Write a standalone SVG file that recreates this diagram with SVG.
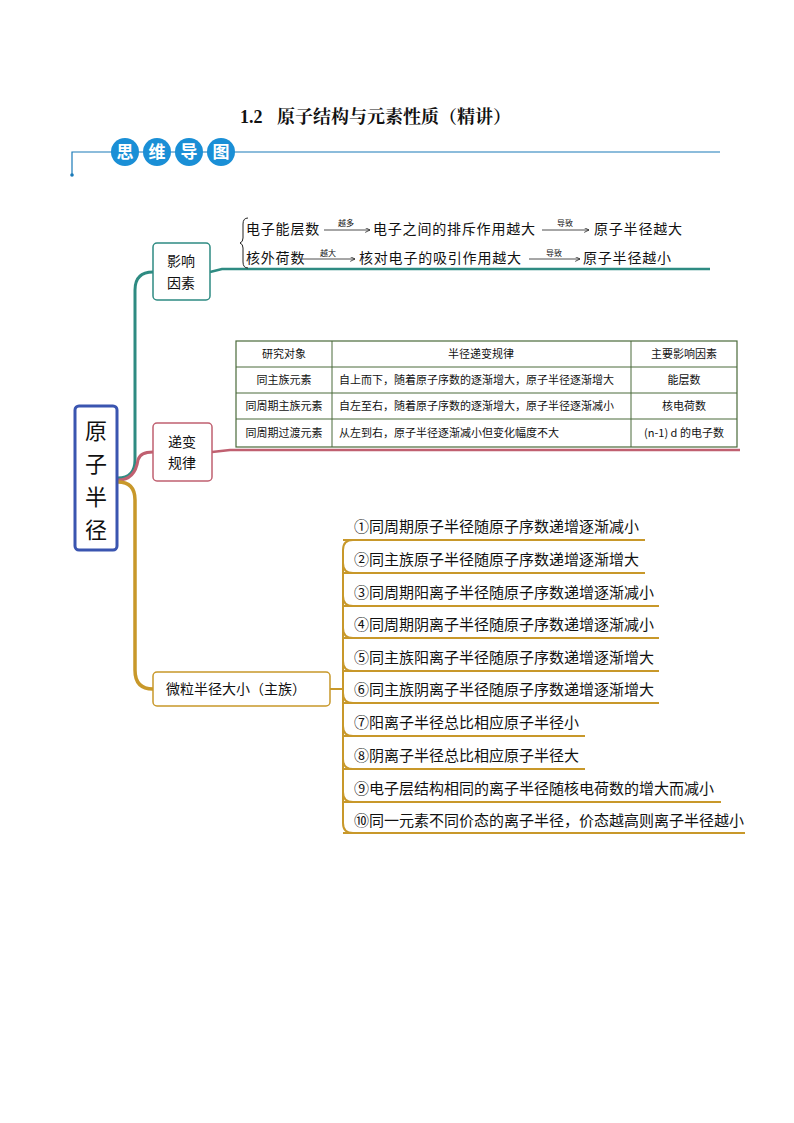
<svg xmlns="http://www.w3.org/2000/svg" width="794" height="1123" viewBox="0 0 794 1123">
<defs>
<marker id="ar" markerWidth="8" markerHeight="8" refX="6" refY="3" orient="auto"><path d="M0,0 L6,3 L0,6" fill="none" stroke="#222" stroke-width="1"/></marker>
</defs>
<style>
text{font-family:"Noto Sans CJK SC","Liberation Serif",sans-serif;fill:#111}
.t{font-size:14px}
.w{letter-spacing:0.8px}
.s{font-size:8px}
.tb{font-size:11px}
.it{font-size:15px}
.gl{stroke:#c8982a;stroke-width:2;fill:none}
</style>
<rect width="794" height="1123" fill="#fff"/>
<text x="240" y="123" style="font-family:'Liberation Serif','Noto Serif CJK SC','Noto Sans CJK SC',serif;font-weight:bold;font-size:18px">1.2</text>
<text x="277" y="123" style="font-family:'Noto Serif CJK SC','Noto Sans CJK SC',serif;font-weight:bold;font-size:18px">原子结构与元素性质（精讲）</text>
<g id="header">
<path d="M720,152 H72 V175" stroke="#1a7ab8" stroke-width="1.2" fill="none"/>
<circle cx="72" cy="175" r="1.8" fill="#1a7ab8"/>
<g fill="#1a8fd6"><circle cx="125" cy="152" r="14"/><circle cx="157" cy="152" r="14"/><circle cx="189" cy="152" r="14"/><circle cx="221" cy="152" r="14"/></g>
<g style="font-size:17px;font-weight:bold" text-anchor="middle"><text x="125" y="158" style="fill:#fff">思</text><text x="157" y="158" style="fill:#fff">维</text><text x="189" y="158" style="fill:#fff">导</text><text x="221" y="158" style="fill:#fff">图</text></g>
</g>
<g id="connectors">
<path d="M118,478 Q135,478 135,460 V290 Q135,272 153,272" stroke="#2e8b82" stroke-width="3" fill="none"/>
<path d="M210,272 L222,269 H710" stroke="#2e8b82" stroke-width="2.5" fill="none"/>
<path d="M118,480 Q135,480 138,460 Q140,452 153,452" stroke="#c06070" stroke-width="3" fill="none"/>
<path d="M212,452 L230,450 H740" stroke="#c06070" stroke-width="2.5" fill="none"/>
<path d="M118,482 Q135,482 135,500 V670 Q135,689 153,689" stroke="#c8982a" stroke-width="3.5" fill="none"/>
<path d="M330,689 H343" class="gl" stroke-width="3"/>
<path d="M353,540 Q343,540 343,550 V823 Q343,833 353,833" class="gl"/>
<path d="M343,540 H645 M343,573 H645 M343,606 H659 M343,638 H659 M343,671 H659 M343,703 H659 M343,736 H585 M343,769 H585 M343,802 H721 M343,833 H745" class="gl"/>
<path d="M343,563 Q343,573 353,573 M343,596 Q343,606 353,606 M343,628 Q343,638 353,638 M343,661 Q343,671 353,671 M343,693 Q343,703 353,703 M343,726 Q343,736 353,736 M343,759 Q343,769 353,769 M343,792 Q343,802 353,802" class="gl"/>
<path d="M248,218 Q243,218 243,224 V238 Q243,242 240,243 Q243,244 243,248 V262 Q243,268 248,268" stroke="#222" fill="none"/>
<g stroke="#222" stroke-width="0.8" marker-end="url(#ar)">
<line x1="324" y1="230" x2="370" y2="230"/><line x1="542" y1="230" x2="589" y2="230"/>
<line x1="302" y1="259" x2="355" y2="259"/><line x1="529" y1="259" x2="580" y2="259"/>
</g>
</g>
<g id="root">
<rect x="75" y="406" width="42" height="144" rx="4" fill="#fff" stroke="#3a55b0" stroke-width="3"/>
<g style="font-size:22px;font-family:'Noto Serif CJK SC','Noto Sans CJK SC',serif" text-anchor="middle"><text x="96" y="439">原</text><text x="96" y="472">子</text><text x="96" y="505">半</text><text x="96" y="538">径</text></g>
</g>
<g id="n1">
<rect x="153" y="243" width="57" height="57" rx="4" fill="#fff" stroke="#2e8b82" stroke-width="1.5"/>
<text x="181" y="266" class="t" text-anchor="middle">影响</text><text x="181" y="288" class="t" text-anchor="middle">因素</text>
</g>
<g id="n1text">
<text x="246" y="234" class="t w">电子能层数</text><text x="346" y="226" class="s" text-anchor="middle">越多</text>
<text x="373" y="234" class="t w">电子之间的排斥作用越大</text><text x="565" y="226" class="s" text-anchor="middle">导致</text>
<text x="594" y="234" class="t w">原子半径越大</text>
<text x="246" y="263" class="t w">核外荷数</text><text x="328" y="256" class="s" text-anchor="middle">越大</text>
<text x="359" y="263" class="t w">核对电子的吸引作用越大</text><text x="554" y="256" class="s" text-anchor="middle">导致</text>
<text x="583" y="263" class="t w">原子半径越小</text>
</g>
<g id="n2">
<rect x="153" y="423" width="59" height="58" rx="4" fill="#fff" stroke="#c06070" stroke-width="1.5"/>
<text x="182" y="447" class="t" text-anchor="middle">递变</text><text x="182" y="468" class="t" text-anchor="middle">规律</text>
</g>
<g id="table">
<rect x="236" y="341" width="501" height="106" fill="#fff" stroke="#4a6a3a" stroke-width="1.2"/>
<path d="M236,367 H737 M236,393 H737 M236,419 H737 M332,341 V447 M631,341 V447" stroke="#4a6a3a" stroke-width="1"/>
<text x="284" y="358" text-anchor="middle" class="tb">研究对象</text><text x="481" y="358" text-anchor="middle" class="tb">半径递变规律</text><text x="684" y="358" text-anchor="middle" class="tb">主要影响因素</text>
<text x="284" y="384" text-anchor="middle" class="tb">同主族元素</text><text x="339" y="384" class="tb">自上而下，随着原子序数的逐渐增大，原子半径逐渐增大</text><text x="684" y="384" text-anchor="middle" class="tb">能层数</text>
<text x="284" y="410" text-anchor="middle" class="tb">同周期主族元素</text><text x="339" y="410" class="tb">自左至右，随着原子序数的逐渐增大，原子半径逐渐减小</text><text x="684" y="410" text-anchor="middle" class="tb">核电荷数</text>
<text x="284" y="437" text-anchor="middle" class="tb">同周期过渡元素</text><text x="339" y="437" class="tb">从左到右，原子半径逐渐减小但变化幅度不大</text><text x="684" y="437" text-anchor="middle" class="tb">(n-1) d 的电子数</text>
</g>
<g id="n3">
<rect x="153" y="672" width="177" height="34" rx="4" fill="#fff" stroke="#c8982a" stroke-width="1.5"/>
<text x="166" y="694" class="t">微粒半径大小（主族）</text>
</g>
<g id="items">
<text x="354" y="532" class="it">①同周期原子半径随原子序数递增逐渐减小</text>
<text x="354" y="565" class="it">②同主族原子半径随原子序数递增逐渐增大</text>
<text x="354" y="598" class="it">③同周期阳离子半径随原子序数递增逐渐减小</text>
<text x="354" y="630" class="it">④同周期阴离子半径随原子序数递增逐渐减小</text>
<text x="354" y="663" class="it">⑤同主族阳离子半径随原子序数递增逐渐增大</text>
<text x="354" y="695" class="it">⑥同主族阴离子半径随原子序数递增逐渐增大</text>
<text x="354" y="728" class="it">⑦阳离子半径总比相应原子半径小</text>
<text x="354" y="761" class="it">⑧阴离子半径总比相应原子半径大</text>
<text x="354" y="794" class="it">⑨电子层结构相同的离子半径随核电荷数的增大而减小</text>
<text x="354" y="826" class="it">⑩同一元素不同价态的离子半径，价态越高则离子半径越小</text>
</g>
</svg>
